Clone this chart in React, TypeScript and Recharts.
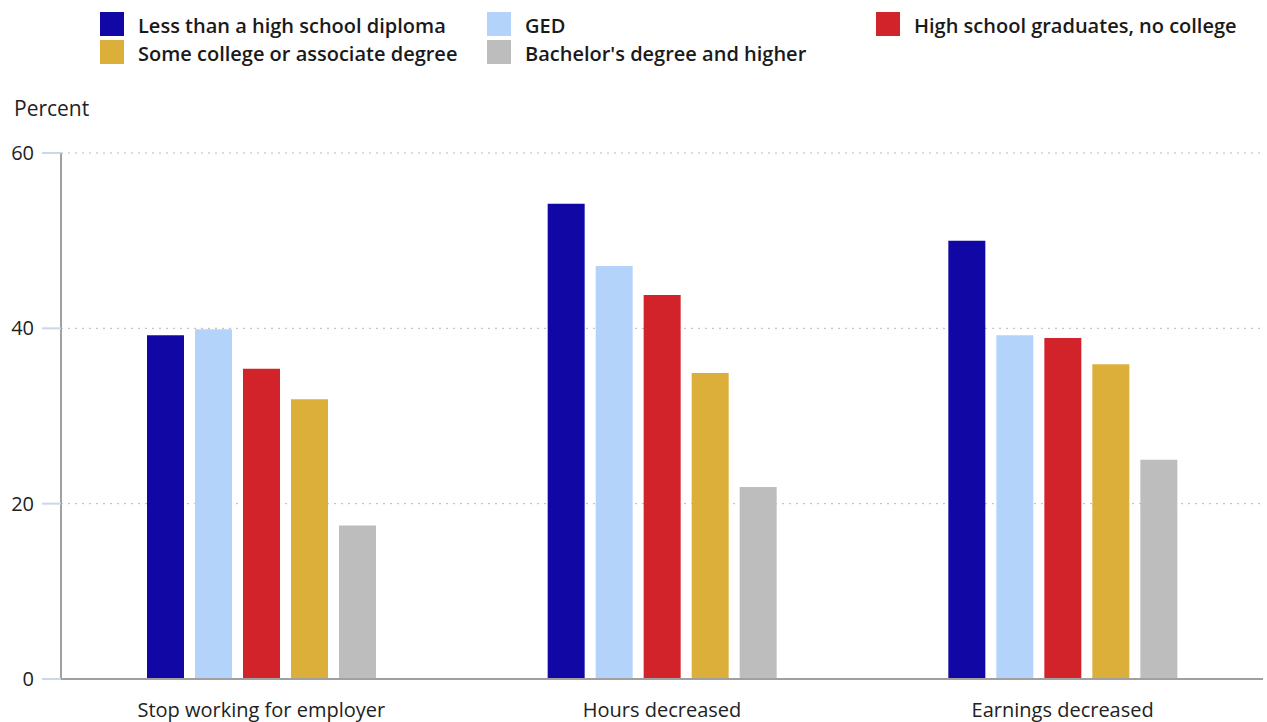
import React from 'react';
import { BarChart, Bar, XAxis, YAxis, CartesianGrid } from 'recharts';

const categories = ['Stop working for employer', 'Hours decreased', 'Earnings decreased'];
const lessThanHs = [39.2, 54.2, 50.0];
const ged = [39.9, 47.1, 39.2];
const hsGrad = [35.4, 43.8, 38.9];
const someCollege = [31.9, 34.9, 35.9];
const bachelors = [17.5, 21.9, 25.0];
const yTicks = [0, 20, 40, 60];

const series = [
  { key: 'less', name: 'Less than a high school diploma', color: '#1007a4', values: lessThanHs },
  { key: 'ged', name: 'GED', color: '#b3d3fb', values: ged },
  { key: 'hs', name: 'High school graduates, no college', color: '#d2232b', values: hsGrad },
  { key: 'some', name: 'Some college or associate degree', color: '#dcae3a', values: someCollege },
  { key: 'ba', name: "Bachelor's degree and higher", color: '#bdbdbd', values: bachelors },
];

const data = categories.map((c, i) => {
  const row: Record<string, string | number> = { name: c };
  series.forEach((s) => { row[s.key] = s.values[i]; });
  return row;
});

// legend grid: square left / top for each entry
const legendPos: Record<string, [number, number]> = {
  less: [100, 12],
  ged: [487, 12],
  hs: [876, 12],
  some: [100, 40],
  ba: [487, 40],
};

const font = '"Open Sans", "Segoe UI", sans-serif';

export default function App() {
  return (
    <div style={{ position: 'absolute', left: 0, top: 0, width: 1267, height: 722, background: '#fff', fontFamily: font }}>
      {series.map((s) => {
        const [x, y] = legendPos[s.key];
        return (
          <div key={s.key} style={{ position: 'absolute', left: x, top: y, height: 24, display: 'flex', alignItems: 'center' }}>
            <div style={{ width: 24, height: 24, background: s.color }} />
            <span style={{ marginLeft: 14, marginTop: 3, fontSize: 20, fontWeight: 600, color: '#1a1a1a', whiteSpace: 'nowrap', lineHeight: '24px' }}>{s.name}</span>
          </div>
        );
      })}
      <div style={{ position: 'absolute', left: 14, top: 94, fontSize: 21, color: '#222' }}>Percent</div>
      <div style={{ position: 'absolute', left: 0, top: 0 }}>
        <BarChart width={1267} height={722} data={data}
          margin={{ top: 153, right: 4, left: 0, bottom: 0 }}
          barGap={11} barSize={37}>
          <CartesianGrid vertical={false} stroke="#b8b8b8" strokeDasharray="2 5" />
          <XAxis dataKey="name" tickLine={false} tickSize={0} tickMargin={24} height={43}
            axisLine={{ stroke: '#a0a0a0', strokeWidth: 2 }}
            tick={{ fill: '#222', fontSize: 20, fontFamily: font }} />
          <YAxis domain={[0, 60]} ticks={yTicks} width={61} tickSize={19} tickMargin={8}
            axisLine={{ stroke: '#a0a0a0', strokeWidth: 2 }}
            tickLine={{ stroke: '#c8d8ea', strokeWidth: 2 }}
            tick={{ fill: '#222', fontSize: 20, fontFamily: font }} />
          {series.map((s) => (
            <Bar key={s.key} dataKey={s.key} name={s.name} fill={s.color} isAnimationActive={false} />
          ))}
        </BarChart>
      </div>
    </div>
  );
}
